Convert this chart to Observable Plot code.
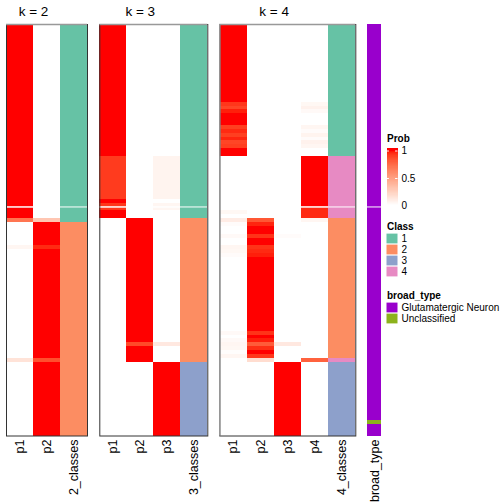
<!DOCTYPE html>
<html><head><meta charset="utf-8">
<script src="https://cdn.jsdelivr.net/npm/d3@7"></script>
<script src="https://cdn.jsdelivr.net/npm/@observablehq/plot@0.6"></script>
<style>
body{margin:0;background:#fff}
#chart{position:relative;width:504px;height:504px;overflow:hidden;background:#fff}
#chart svg{position:absolute;left:0;top:0}
</style></head><body><div id="chart"></div>
<script>
// ---------------- data ----------------
const rowCount = 106;
const splitRows = [47];

const k2_p1 = [
 1,1,1,1,1,1,1,1,1,1,
 1,1,1,1,1,1,1,1,1,1,
 1,1,1,1,1,1,1,1,1,1,
 1,1,1,1,1,1,1,1,1,1,
 1,1,1,1,1,1,1,1,1,1,
 0.7,0,0,0,0,0,0,0.05,0,0,
 0,0,0,0,0,0,0,0,0,0,
 0,0,0,0,0,0,0,0,0,0,
 0,0,0,0,0,0,0.15,0,0,0,
 0,0,0,0,0,0,0,0,0,0,
 0,0,0,0,0,0];
const k2_p2 = [
 0,0,0,0,0,0,0,0,0,0,
 0,0,0,0,0,0,0,0,0,0,
 0,0,0,0,0,0,0,0,0,0,
 0,0,0,0,0,0,0,0,0,0,
 0,0,0,0,0,0,0,0,0,0,
 0.3,1,1,1,1,1,1,0.95,1,1,
 1,1,1,1,1,1,1,1,1,1,
 1,1,1,1,1,1,1,1,1,1,
 1,1,1,1,1,1,0.85,1,1,1,
 1,1,1,1,1,1,1,1,1,1,
 1,1,1,1,1,1];
const k2_class = [
 1,1,1,1,1,1,1,1,1,1,
 1,1,1,1,1,1,1,1,1,1,
 1,1,1,1,1,1,1,1,1,1,
 1,1,1,1,1,1,1,1,1,1,
 1,1,1,1,1,1,1,1,1,1,
 1,2,2,2,2,2,2,2,2,2,
 2,2,2,2,2,2,2,2,2,2,
 2,2,2,2,2,2,2,2,2,2,
 2,2,2,2,2,2,2,2,2,2,
 2,2,2,2,2,2,2,2,2,2,
 2,2,2,2,2,2];

const k3_p1 = [
 1,1,1,1,1,1,1,1,1,1,
 1,1,1,1,1,1,1,1,1,1,
 1,1,1,1,1,1,1,1,1,1,
 1,1,1,1,0.91,0.91,0.91,0.91,0.91,0.91,
 0.91,0.91,0.91,0.91,0.91,1,0.92,0.92,1,1,
 0,0,0,0,0,0,0,0,0,0,
 0,0,0,0,0,0,0,0,0,0,
 0,0,0,0,0,0,0,0,0,0,
 0,0,0,0,0,0,0,0,0,0,
 0,0,0,0,0,0,0,0,0,0,
 0,0,0,0,0,0];
const k3_p2 = [
 0,0,0,0,0,0,0,0,0,0,
 0,0,0,0,0,0,0,0,0,0,
 0,0,0,0,0,0,0,0,0,0,
 0,0,0,0,0,0,0,0,0,0,
 0,0,0,0,0,0,0,0,0,0,
 1,1,1,1,1,1,1,1,1,1,
 1,1,1,1,1,1,1,1,1,1,
 1,1,1,1,1,1,1,1,1,1,
 1,1,0.87,1,1,1,1,0,0,0,
 0,0,0,0,0,0,0,0,0,0,
 0,0,0,0,0,0];
const k3_p3 = [
 0,0,0,0,0,0,0,0,0,0,
 0,0,0,0,0,0,0,0,0,0,
 0,0,0,0,0,0,0,0,0,0,
 0,0,0,0,0.06,0.06,0.06,0.06,0.06,0.06,
 0.06,0.06,0.06,0.06,0.06,0,0.05,0.05,0,0,
 0,0,0,0,0,0,0,0,0,0,
 0,0,0,0,0,0,0,0,0,0,
 0,0,0,0,0,0,0,0,0,0,
 0,0,0.12,0,0,0,0,1,1,1,
 1,1,1,1,1,1,1,1,1,1,
 1,1,1,1,1,1];
const k3_class = [
 1,1,1,1,1,1,1,1,1,1,
 1,1,1,1,1,1,1,1,1,1,
 1,1,1,1,1,1,1,1,1,1,
 1,1,1,1,1,1,1,1,1,1,
 1,1,1,1,1,1,1,1,1,1,
 2,2,2,2,2,2,2,2,2,2,
 2,2,2,2,2,2,2,2,2,2,
 2,2,2,2,2,2,2,2,2,2,
 2,2,2,2,2,2,2,3,3,3,
 3,3,3,3,3,3,3,3,3,3,
 3,3,3,3,3,3];

const k4_p1 = [
 1,1,1,1,1,1,1,1,1,1,
 1,1,1,1,1,1,1,1,1,1,
 0.92,0.88,0.97,1,1,1,0.9,0.95,0.9,0.96,
 0.88,0.9,1,1,0,0,0,0,0,0,
 0,0,0,0,0,0,0,0,0.04,0,
 0.1,0.02,0,0,0.03,0,0,0.05,0.04,0.02,
 0,0,0,0,0,0,0,0,0,0,
 0,0,0,0,0,0,0,0,0,0.03,
 0,0.03,0.05,0.04,0.01,0.05,0,0,0,0,
 0,0,0,0,0,0,0,0,0,0,
 0,0,0,0,0,0];
const k4_p2 = [
 0,0,0,0,0,0,0,0,0,0,
 0,0,0,0,0,0,0,0,0,0,
 0,0,0,0,0,0,0,0,0,0,
 0,0,0,0,0,0,0,0,0,0,
 0,0,0,0,0,0,0,0,0,0,
 0.82,0.96,1,1,0.93,1,1,0.93,0.95,0.97,
 1,1,1,1,1,1,1,1,1,1,
 1,1,1,1,1,1,1,1,1,0.93,
 1,0.97,0.8,0.94,1,0.92,0.18,0,0,0,
 0,0,0,0,0,0,0,0,0,0,
 0,0,0,0,0,0];
const k4_p3 = [
 0,0,0,0,0,0,0,0,0,0,
 0,0,0,0,0,0,0,0,0,0,
 0,0,0,0,0,0,0,0,0,0,
 0,0,0,0,0,0,0,0,0,0,
 0,0,0,0,0,0,0,0,0,0,
 0,0,0,0,0.02,0,0,0,0,0,
 0,0,0,0,0,0,0,0,0,0,
 0,0,0,0,0,0,0,0,0,0,
 0,0,0.12,0,0,0,0,1,1,1,
 1,1,1,1,1,1,1,1,1,1,
 1,1,1,1,1,1];
const k4_p4 = [
 0,0,0,0,0,0,0,0,0,0,
 0,0,0,0,0,0,0,0,0,0,
 0.04,0.07,0.03,0,0,0,0.05,0.02,0.06,0.02,
 0.07,0.05,0,0,1,1,1,1,1,1,
 1,1,1,1,1,1,1,0.95,0.95,0.95,
 0.05,0,0,0,0,0,0,0,0,0,
 0,0,0,0,0,0,0,0,0,0,
 0,0,0,0,0,0,0,0,0,0,
 0,0,0,0,0,0,0.78,0,0,0,
 0,0,0,0,0,0,0,0,0,0,
 0,0,0,0,0,0];
const k4_class = [
 1,1,1,1,1,1,1,1,1,1,
 1,1,1,1,1,1,1,1,1,1,
 1,1,1,1,1,1,1,1,1,1,
 1,1,1,1,4,4,4,4,4,4,
 4,4,4,4,4,4,4,4,4,4,
 2,2,2,2,2,2,2,2,2,2,
 2,2,2,2,2,2,2,2,2,2,
 2,2,2,2,2,2,2,2,2,2,
 2,2,2,2,2,2,4,3,3,3,
 3,3,3,3,3,3,3,3,3,3,
 3,3,3,3,3,3];

// 0 = Glutamatergic Neuron, 1 = Unclassified
const broad_type = [
 0,0,0,0,0,0,0,0,0,0,
 0,0,0,0,0,0,0,0,0,0,
 0,0,0,0,0,0,0,0,0,0,
 0,0,0,0,0,0,0,0,0,0,
 0,0,0,0,0,0,0,0,0,0,
 0,0,0,0,0,0,0,0,0,0,
 0,0,0,0,0,0,0,0,0,0,
 0,0,0,0,0,0,0,0,0,0,
 0,0,0,0,0,0,0,0,0,0,
 0,0,0,0,0,0,0,0,0,0,
 0,0,1,0,0,0];

const classNames = ["1","2","3","4"];
const classColors = ["#66C2A5","#FC8D62","#8DA0CB","#E78AC3"];
const broadNames = ["Glutamatergic Neuron","Unclassified"];
const broadColors = ["#9900CC","#8CB21C"];
const probBreaks = [0, 0.5, 1];
const probLabels = ["0", "0.5", "1"];

const panels = [
  {title:"k = 2", cols:["p1","p2"], probs:[k2_p1,k2_p2], clsLabel:"2_classes", cls:k2_class},
  {title:"k = 3", cols:["p1","p2","p3"], probs:[k3_p1,k3_p2,k3_p3], clsLabel:"3_classes", cls:k3_class},
  {title:"k = 4", cols:["p1","p2","p3","p4"], probs:[k4_p1,k4_p2,k4_p3,k4_p4], clsLabel:"4_classes", cls:k4_class}
];

// ---------------- layout ----------------
const W = 504, H = 504;
const bodyTop = 24, bodyBottom = 435.5;
const panelX = [[6, 87], [99.3, 207.3], [219.3, 355.3]];
const grayLeft = [false, false, true];
const broadX = [367, 381];
const font = '"Liberation Sans", Arial, Helvetica, sans-serif';
const svgStyle = {background: "transparent", fontFamily: font, fontSize: "12px", color: "black", overflow: "visible"};

const probColor = {type: "linear", domain: [0, 1], range: ["white", "red"], interpolate: d3.interpolateLab, clamp: true};
const chart = document.getElementById("chart");

function base(left, right, nc) {
  return {
    width: W, height: H,
    marginLeft: left, marginRight: W - right, marginTop: bodyTop, marginBottom: H - bodyBottom,
    style: svgStyle,
    x: {domain: [0, nc], axis: null},
    y: {domain: [0, rowCount], reverse: true, axis: null}
  };
}

panels.forEach((p, k) => {
  const np = p.cols.length, nc = np + 1;
  const [left, right] = panelX[k];
  const cells = [];
  p.probs.forEach((arr, j) => arr.forEach((v, i) => cells.push({col: j, row: i, v})));
  const clsCells = p.cls.map((c, i) => ({row: i, c: String(c)}));

  chart.appendChild(Plot.plot({
    ...base(left, right, nc),
    color: probColor,
    marks: [
      Plot.rect(cells, {x1: "col", x2: d => d.col + 1, y1: "row", y2: d => d.row + 1, fill: "v", shapeRendering: "crispEdges"}),
      Plot.ruleY(splitRows, {stroke: "white", strokeWidth: 1}),
      Plot.text([p.title], {x: np / 2, frameAnchor: "top", dy: -8.5, lineAnchor: "bottom", fontSize: 13.5, text: d => d}),
      Plot.text(p.cols, {x: (d, i) => i + 0.5, frameAnchor: "bottom", rotate: -90, textAnchor: "end", lineAnchor: "middle", dy: 3.5, fontSize: 12.5, text: d => d})
    ]
  }));

  chart.appendChild(Plot.plot({
    ...base(left, right, nc),
    color: {type: "ordinal", domain: classNames, range: classColors},
    marks: [
      Plot.rect(clsCells, {x1: nc - 1, x2: nc, y1: "row", y2: d => d.row + 1, fill: "c", shapeRendering: "crispEdges"}),
      Plot.ruleY(splitRows, {stroke: "white", strokeWidth: 1}),
      Plot.frame({stroke: "#333", strokeWidth: 1}),
      Plot.ruleY([0], {stroke: "#999", strokeWidth: 1.5}),
      grayLeft[k] ? Plot.ruleX([0], {stroke: "#999", strokeWidth: 1.5}) : null,
      Plot.text([p.clsLabel], {x: nc - 0.5, frameAnchor: "bottom", rotate: -90, textAnchor: "end", lineAnchor: "middle", dy: 3.5, fontSize: 12.5, text: d => d})
    ]
  }));
});

// broad_type annotation column
const broadCells = broad_type.map((b, i) => ({row: i, name: broadNames[b]}));
chart.appendChild(Plot.plot({
  ...base(broadX[0], broadX[1], 1),
  color: {type: "ordinal", domain: broadNames, range: broadColors},
  marks: [
    Plot.rect(broadCells, {x1: 0, x2: 1, y1: "row", y2: d => d.row + 1, fill: "name", shapeRendering: "crispEdges"}),
    Plot.ruleY(splitRows, {stroke: "white", strokeWidth: 1}),
    Plot.text(["broad_type"], {x: 0.5, frameAnchor: "bottom", rotate: -90, textAnchor: "end", lineAnchor: "middle", dy: 3.5, fontSize: 12.5, text: d => d})
  ]
}));

// ---------------- legends ----------------
const legX = {domain: [0, 1], range: [386.5, 397.5], axis: null};
const ramp = d3.range(0, 1.04, 0.01);
chart.appendChild(Plot.plot({
  width: W, height: H, margin: 0, style: svgStyle,
  x: legX,
  y: {domain: [0, 1], range: [205.5, 150.5], axis: null},
  color: probColor,
  marks: [
    Plot.rect(ramp, {x1: 0, x2: 1, y1: d => d, y2: d => d + 0.0105, fill: d => Math.min(d, 1), shapeRendering: "crispEdges"}),
    Plot.ruleY(probBreaks, {x1: 0, x2: 0.22, stroke: "white", strokeWidth: 1}),
    Plot.ruleY(probBreaks, {x1: 0.78, x2: 1, stroke: "white", strokeWidth: 1}),
    Plot.text(probBreaks, {x: 1, y: d => d, dx: 3.5, textAnchor: "start", fontSize: 10, text: (d, i) => probLabels[i]}),
    Plot.text(["Prob"], {x: 0, y: 1, dy: -9, lineAnchor: "bottom", textAnchor: "start", fontSize: 10, fontWeight: "bold", text: d => d})
  ]
}));

chart.appendChild(Plot.plot({
  width: W, height: H, margin: 0, style: svgStyle,
  x: legX,
  y: {type: "band", domain: classNames, range: [232.3, 277.3], padding: 0, axis: null},
  color: {type: "ordinal", domain: classNames, range: classColors},
  marks: [
    Plot.barX(classNames, {x1: 0, x2: 1, y: d => d, fill: d => d, insetTop: 0.6, insetBottom: 0.6}),
    Plot.text(classNames, {x: 1, y: d => d, dx: 3.5, textAnchor: "start", fontSize: 10, text: d => d}),
    Plot.text(["Class"], {x: 0, y: () => classNames[0], dy: -9, lineAnchor: "bottom", textAnchor: "start", fontSize: 10, fontWeight: "bold", text: d => d})
  ]
}));

chart.appendChild(Plot.plot({
  width: W, height: H, margin: 0, style: svgStyle,
  x: legX,
  y: {type: "band", domain: broadNames, range: [301.5, 324.5], padding: 0, axis: null},
  color: {type: "ordinal", domain: broadNames, range: broadColors},
  marks: [
    Plot.barX(broadNames, {x1: 0, x2: 1, y: d => d, fill: d => d, insetTop: 0.6, insetBottom: 0.6}),
    Plot.text(broadNames, {x: 1, y: d => d, dx: 3.5, textAnchor: "start", fontSize: 10, text: d => d}),
    Plot.text(["broad_type"], {x: 0, y: () => broadNames[0], dy: -9, lineAnchor: "bottom", textAnchor: "start", fontSize: 10, fontWeight: "bold", text: d => d})
  ]
}));
</script></body></html>
